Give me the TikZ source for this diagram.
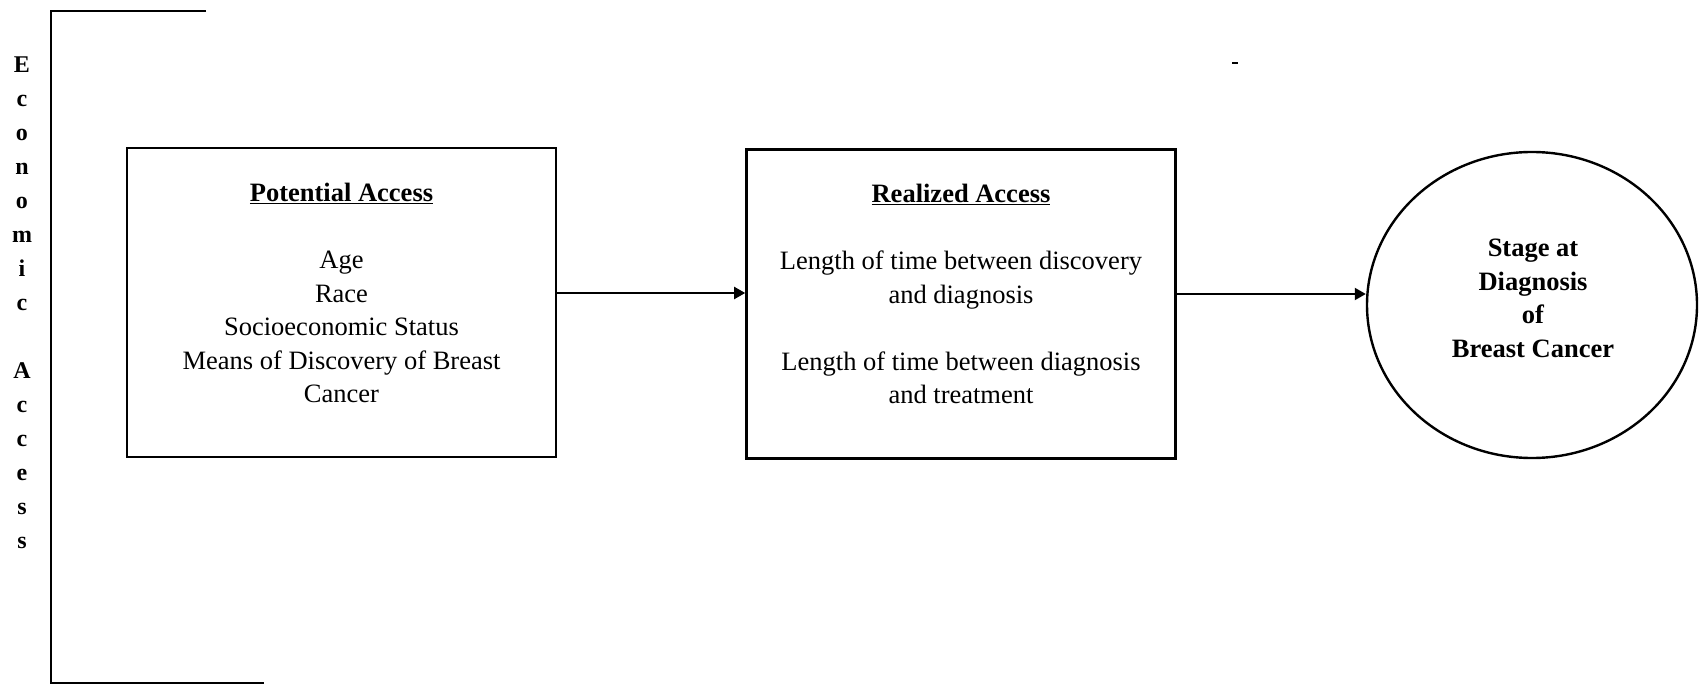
\documentclass[tikz,border=0pt]{standalone}
\usepackage{fontspec}
\setmainfont{Liberation Serif}
\usetikzlibrary{arrows.meta,shapes.geometric}
\begin{document}
\begin{tikzpicture}[x=1pt,y=-1pt,
  box/.style={draw,line width=2.6pt,minimum width=429pt,minimum height=309pt,inner sep=0pt},
  txt/.style={font=\fontsize{26.5}{33.5}\selectfont,align=center,anchor=north,inner sep=0pt},
  boldtxt/.style={txt,font=\fontsize{26.5}{33.5}\selectfont\bfseries},
  vtxt/.style={font=\fontsize{24}{34}\selectfont\bfseries,align=center,anchor=north,inner sep=0pt},
  conn/.style={line width=2pt,-{Triangle[length=11pt,width=12pt]}},
  frame/.style={line width=2.6pt}]
\useasboundingbox (0,0) rectangle (1706,687);
% Economic Access bracket
\coordinate (bt) at (206,11);
\coordinate (btl) at (51,11);
\coordinate (bbl) at (51,683);
\coordinate (bb) at (264,683);
\draw[frame] (bt) -- (btl) -- (bbl) -- (bb);
\node[vtxt] (ea) at (22,57) {E\\c\\o\\n\\o\\m\\i\\c\\[34pt]A\\c\\c\\e\\s\\s};
% boxes
\node[box] (pa) at (341.5,302.5) {};
\node[box] (ra) at (961,304) {};
\node[draw,line width=2.4pt,ellipse,minimum width=330pt,minimum height=306pt,inner sep=0pt] (sd) at (1532,305) {};
% texts
\node[txt] (pat) at (341.5,183) {\textbf{\underline{Potential Access}}\\[33.5pt]Age\\Race\\Socioeconomic Status\\Means of Discovery of Breast\\Cancer};
\node[txt] (rat) at (961,184) {\textbf{\underline{Realized Access}}\\[33.5pt]Length of time between discovery\\and diagnosis\\[33.5pt]Length of time between diagnosis\\and treatment};
\node[boldtxt] (sdt) at (1533,239) {Stage at\\Diagnosis\\of\\Breast Cancer};
% connectors
\draw[conn] ([yshift=9.5pt]pa.east) -- ([yshift=11pt]ra.west);
\draw[conn] ([yshift=10pt]ra.east) -- ([yshift=11pt]sd.west);
% stray mark
\coordinate (m1) at (1232,63);
\coordinate (m2) at (1238,63);
\draw[line width=1.8pt] (m1) -- (m2);
\end{tikzpicture}
\end{document}
